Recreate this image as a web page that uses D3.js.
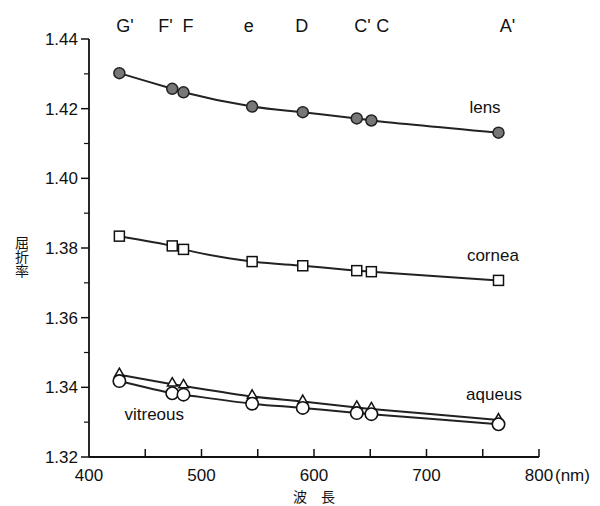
<!DOCTYPE html>
<html>
<head>
<meta charset="utf-8">
<script src="https://cdn.jsdelivr.net/npm/d3@7"></script>
<style>
  body { margin: 0; background: #fff; }
  text { font-family: "Liberation Sans", Arial, sans-serif; fill: #111; }
  .cjk { font-family: "Noto Sans CJK JP", sans-serif; }
</style>
</head>
<body>
<div id="chart"></div>
<script>
"use strict";

// Wavelengths (nm) of the spectral lines
const wavelengths = [427, 474, 484, 545, 590, 638, 651, 764];

// Refractive index per medium
const lens     = [1.4302, 1.4257, 1.4247, 1.4206, 1.4190, 1.4172, 1.4166, 1.4131];
const cornea   = [1.3834, 1.3806, 1.3796, 1.3761, 1.3749, 1.3735, 1.3732, 1.3707];
const aqueus   = [1.3436, 1.3409, 1.3404, 1.3374, 1.3359, 1.3342, 1.3338, 1.3306];
const vitreous = [1.3418, 1.3383, 1.3379, 1.3353, 1.3341, 1.3326, 1.3323, 1.3294];

// Spectral line names along the top and where they sit (nm)
const lineNames = ["G'", "F'", "F", "e", "D", "C'", "C", "A'"];
const lineNamePos = [432, 468, 488, 542, 589, 643, 661, 772];

const xTicks = [400, 500, 600, 700, 800];
const yTicks = [1.32, 1.34, 1.36, 1.38, 1.40, 1.42, 1.44];

const w = 600;
const h = 506;

const svg = d3.select("#chart").append("svg").attr("width", w).attr("height", h);

const x = d3.scaleLinear().domain([400, 800]).range([89, 539]);
const y = d3.scaleLinear().domain([1.32, 1.44]).range([457, 39]);

// Y axis: ticks outward, minor every 0.01
const yAxis = svg.append("g").attr("transform", `translate(${x(400)},0)`);
yAxis.append("line").attr("y1", y(1.44)).attr("y2", y(1.32)).attr("stroke", "#111").attr("stroke-width", 1.8);
yAxis.selectAll(".minor")
  .data(d3.range(1.33, 1.44, 0.02))
  .enter().append("line")
  .attr("x1", -5).attr("x2", 0)
  .attr("y1", (d) => y(d)).attr("y2", (d) => y(d))
  .attr("stroke", "#111").attr("stroke-width", 1.2);
yAxis.selectAll(".major")
  .data(yTicks)
  .enter().append("line")
  .attr("x1", -8).attr("x2", 0)
  .attr("y1", (d) => y(d)).attr("y2", (d) => y(d))
  .attr("stroke", "#111").attr("stroke-width", 1.5);
yAxis.selectAll("text")
  .data(yTicks)
  .enter().append("text")
  .attr("x", -11)
  .attr("y", (d) => y(d))
  .attr("dy", "0.35em")
  .attr("text-anchor", "end")
  .attr("font-size", 17)
  .text((d) => d.toFixed(2));

// X axis: ticks inward every 50 nm
const xAxis = svg.append("g").attr("transform", `translate(0,${y(1.32)})`);
xAxis.append("line").attr("x1", x(400)).attr("x2", x(800)).attr("stroke", "#111").attr("stroke-width", 1.8);
xAxis.selectAll(".tick")
  .data(d3.range(450, 801, 50))
  .enter().append("line")
  .attr("x1", (d) => x(d)).attr("x2", (d) => x(d))
  .attr("y1", 0).attr("y2", -8)
  .attr("stroke", "#111").attr("stroke-width", 1.5);
xAxis.selectAll("text")
  .data(xTicks)
  .enter().append("text")
  .attr("x", (d) => x(d))
  .attr("y", 24)
  .attr("text-anchor", "middle")
  .attr("font-size", 17)
  .text((d) => d);
xAxis.append("text")
  .attr("x", x(800) + 16)
  .attr("y", 24)
  .attr("font-size", 17)
  .text("(nm)");

// Axis titles (vertical one in vertical writing mode)
svg.append("text")
  .attr("class", "cjk")
  .attr("x", 22)
  .attr("y", 257)
  .attr("text-anchor", "middle")
  .attr("font-size", 14)
  .style("writing-mode", "vertical-rl")
  .text("屈折率");

svg.append("text")
  .attr("class", "cjk")
  .attr("x", 314)
  .attr("y", 502)
  .attr("text-anchor", "middle")
  .attr("font-size", 14)
  .text("波　長");

// Spectral line names
svg.selectAll(".linename")
  .data(lineNames)
  .enter().append("text")
  .attr("x", (d, i) => x(lineNamePos[i]))
  .attr("y", 32)
  .attr("text-anchor", "middle")
  .attr("font-size", 18)
  .text((d) => d);

const line = d3.line()
  .x((d, i) => x(wavelengths[i]))
  .y((d) => y(d))
  .curve(d3.curveCatmullRom.alpha(0.5));

const drawLine = (values) => {
  svg.append("path")
    .attr("d", line(values))
    .attr("fill", "none")
    .attr("stroke", "#222")
    .attr("stroke-width", 2);
};

[aqueus, vitreous, cornea, lens].forEach(drawLine);

// Markers
const tri = d3.symbol().type(d3.symbolTriangle).size(40);
svg.selectAll(".aq")
  .data(aqueus)
  .enter().append("path")
  .attr("d", tri)
  .attr("transform", (d, i) => `translate(${x(wavelengths[i])},${y(d) - 1})`)
  .attr("fill", "#fff").attr("stroke", "#111").attr("stroke-width", 1.5);

svg.selectAll(".vit")
  .data(vitreous)
  .enter().append("circle")
  .attr("cx", (d, i) => x(wavelengths[i]))
  .attr("cy", (d) => y(d))
  .attr("r", 6.2)
  .attr("fill", "#fff").attr("stroke", "#111").attr("stroke-width", 1.6);

svg.selectAll(".cor")
  .data(cornea)
  .enter().append("rect")
  .attr("x", (d, i) => x(wavelengths[i]) - 5)
  .attr("y", (d) => y(d) - 5)
  .attr("width", 10).attr("height", 10)
  .attr("fill", "#fff").attr("stroke", "#111").attr("stroke-width", 1.5);

svg.selectAll(".lens")
  .data(lens)
  .enter().append("circle")
  .attr("cx", (d, i) => x(wavelengths[i]))
  .attr("cy", (d) => y(d))
  .attr("r", 5.5)
  .attr("fill", "#777").attr("stroke", "#222").attr("stroke-width", 1.5);

// Series names
const names = [
  { text: "lens", nm: 752, v: lens[7], dy: -20 },
  { text: "cornea", nm: 759, v: cornea[7], dy: -19 },
  { text: "aqueus", nm: 760, v: aqueus[7], dy: -20 },
  { text: "vitreous", nm: 458, v: vitreous[1], dy: 27 },
];
svg.selectAll(".sname")
  .data(names)
  .enter().append("text")
  .attr("x", (d) => x(d.nm))
  .attr("y", (d) => y(d.v) + d.dy)
  .attr("text-anchor", "middle")
  .attr("font-size", 17)
  .text((d) => d.text);
</script>
</body>
</html>
